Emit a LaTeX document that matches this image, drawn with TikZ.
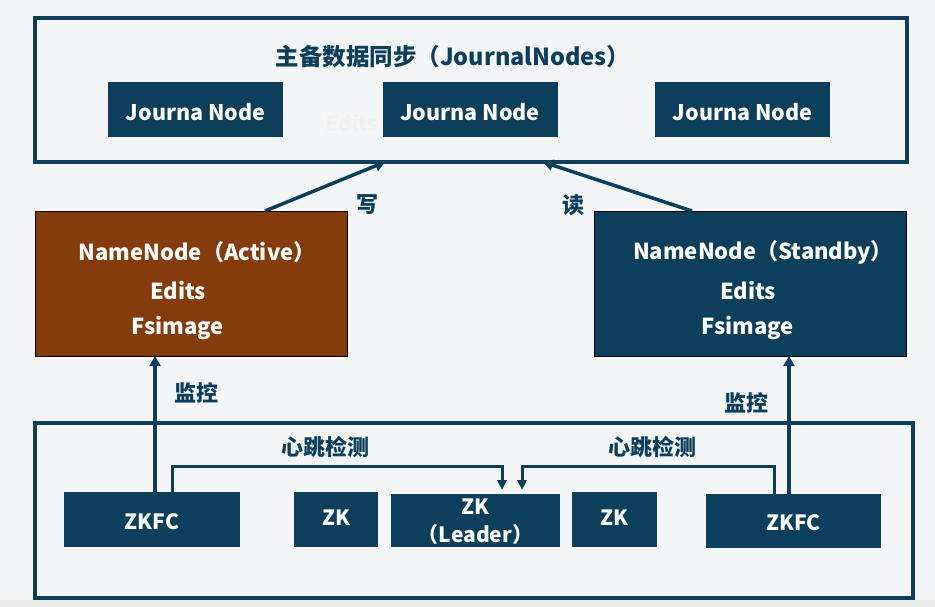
\documentclass[tikz,border=0pt]{standalone}
\usepackage{fontspec}
\setmainfont{Noto Sans CJK SC}
\usetikzlibrary{arrows.meta,calc}
\definecolor{dk}{HTML}{0B3F5C}
\definecolor{br}{HTML}{843C0C}
\definecolor{bg}{HTML}{F4F5F6}
\tikzset{
  frame/.style={draw=dk, line width=3.2pt},
  jnbox/.style={fill=dk, text=white, minimum width=175, minimum height=55, inner sep=0, font=\bfseries\fontsize{21.5}{24}\selectfont},
  zkbox/.style={fill=dk, text=white, minimum height=55, inner sep=0, font=\bfseries\fontsize{21}{23}\selectfont, align=center},
  nnbox/.style={draw=black, line width=0.8pt, minimum width=312, minimum height=145, inner sep=0},
  nntext/.style={text=white, font=\bfseries\fontsize{22}{24}\selectfont, inner sep=0},
  lbl/.style={text=dk, font=\bfseries\fontsize{22}{24}\selectfont, inner sep=0},
  wtext/.style={text=white, font=\bfseries\fontsize{21.5}{24}\selectfont, inner sep=0},
  bigarr/.style={draw=dk, line width=3.5pt, -{Triangle[width=11pt,length=10pt]}},
  hbarr/.style={draw=dk, line width=3pt, -{Triangle[width=9pt,length=10pt]}},
}
\begin{document}
\begin{tikzpicture}[x=1pt,y=-1pt]
\fill[bg] (0,0) rectangle (935,607);
\fill[black!8] (0,600) rectangle (935,607);
% top frame
\draw[frame] (35,18) rectangle (907,162);
\coordinate (topS1) at (385,162);
\coordinate (topS2) at (543,162);
\node[text=dk, font=\bfseries\fontsize{23.5}{26}\selectfont, inner sep=0] (title) at (453,57) {主备数据同步（JournalNodes）};
\node[text=black!6, font=\bfseries\fontsize{21}{24}\selectfont, inner sep=0] (ghost) at (352,123) {Edits};
\node[jnbox] (jn1) at (195.5,109.5) {};
\node[jnbox] (jn2) at (470,109.5) {};
\node[jnbox] (jn3) at (742.5,109.5) {};
\node[wtext] (jn1t) at (195.5,112) {Journa Node};
\node[wtext] (jn2t) at (470,112) {Journa Node};
\node[wtext] (jn3t) at (742.5,112) {Journa Node};
% namenodes
\node[nnbox, fill=br] (act) at (191,283.5) {};
\node[nnbox, fill=dk] (stb) at (750,283.5) {};
\node[nntext] (actT) at (197,252) {NameNode（Active）};
\node[nntext] (actE) at (178,291) {Edits};
\node[nntext] (actF) at (178,328) {Fsimage};
\node[nntext] (stbT) at (763,252) {NameNode（Standby）};
\node[nntext] (stbE) at (748,291) {Edits};
\node[nntext] (stbF) at (748,328) {Fsimage};
\coordinate (actN) at (265,211);
\coordinate (stbN) at (692,211);
\coordinate (actS) at (155,356);
\coordinate (stbS) at (789,356);
\draw[bigarr] (actN) -- (topS1);
\draw[bigarr] (stbN) -- (topS2);
\node[lbl] (w) at (367,205) {写};
\node[lbl] (r) at (573,205) {读};
% bottom frame
\draw[frame] (35,423) rectangle (913,598);
\node[zkbox, minimum width=176] (zkfcL) at (152,519.5) {};
\node[zkbox, minimum width=84] (zk1) at (336,519.5) {};
\node[zkbox, minimum width=169, minimum height=53] (zkL) at (475.5,520.5) {};
\node[zkbox, minimum width=85] (zk2) at (614.5,519.5) {};
\node[zkbox, minimum width=175, minimum height=54] (zkfcR) at (793.5,521) {};
\node[wtext, font=\bfseries\fontsize{21}{23}\selectfont] (zkfcLt) at (152,522) {ZKFC};
\node[wtext, font=\bfseries\fontsize{21}{23}\selectfont] (zk1t) at (336,518) {ZK};
\node[wtext, font=\bfseries\fontsize{21}{23}\selectfont] (zkLt1) at (475.5,507) {ZK};
\node[wtext, font=\bfseries\fontsize{21}{23}\selectfont] (zkLt2) at (475.5,535) {（Leader）};
\node[wtext, font=\bfseries\fontsize{21}{23}\selectfont] (zk2t) at (614.5,518) {ZK};
\node[wtext, font=\bfseries\fontsize{21}{23}\selectfont] (zkfcRt) at (793.5,523) {ZKFC};
\coordinate (zkfcLN) at (155,492);
\coordinate (zkfcRN) at (789,494);
\draw[bigarr] (zkfcLN) -- (actS);
\draw[bigarr] (zkfcRN) -- (stbS);
\node[lbl] (m1) at (196,393) {监控};
\node[lbl] (m2) at (746,403) {监控};
\coordinate (hbL) at (172,492);
\coordinate (hbR) at (774,494);
\coordinate (hbLt) at (502,490);
\coordinate (hbRt) at (522,490);
\draw[hbarr] (hbL) |- (502,466) -- (hbLt);
\draw[hbarr] (hbR) |- (522,466) -- (hbRt);
\node[lbl] (h1) at (325,447) {心跳检测};
\node[lbl] (h2) at (652,447) {心跳检测};
\end{tikzpicture}
\end{document}
